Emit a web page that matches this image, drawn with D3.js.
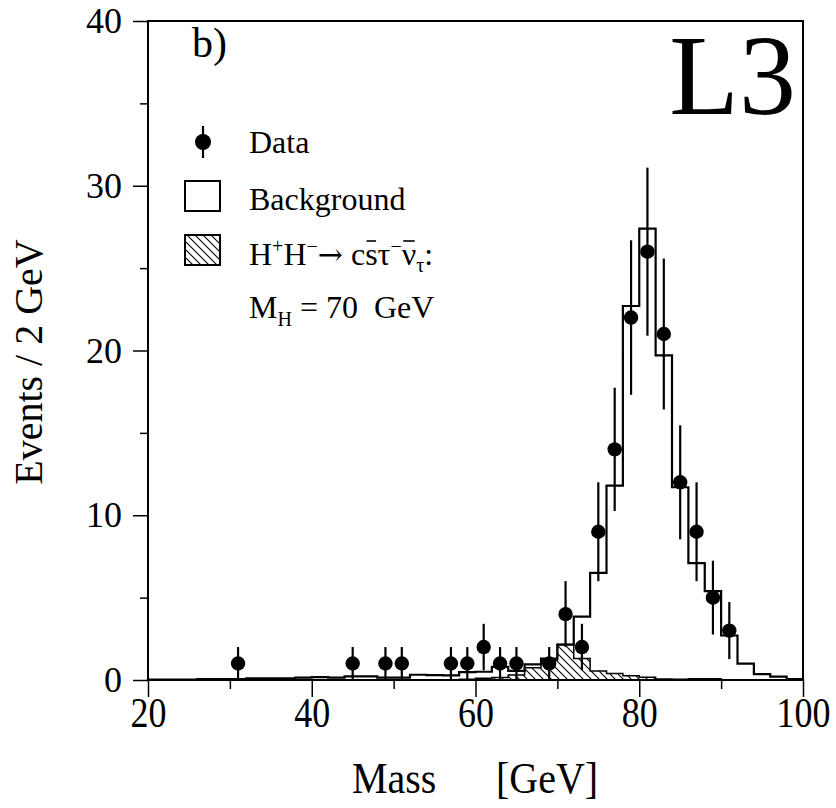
<!DOCTYPE html>
<html><head><meta charset="utf-8">
<script src="https://cdn.jsdelivr.net/npm/d3@7"></script>
<style>
html,body{margin:0;padding:0;background:#fff;}
text{font-family:"Liberation Serif","Times New Roman",serif;fill:#000;}
</style></head>
<body>
<svg id="c" width="836" height="808"></svg>
<script>
// ---- data ----
const binEdges = [20,22,24,26,28,30,32,34,36,38,40,42,44,46,48,50,52,54,56,58,60,62,64,66,68,70,72,74,76,78,80,82,84,86,88,90,92,94,96,98,100];
const background = [0.02,0.02,0.03,0.05,0.05,0.06,0.1,0.1,0.1,0.15,0.18,0.15,0.22,0.22,0.15,0.15,0.32,0.3,0.28,0.48,0.5,0.8,0.55,0.95,1.3,2.15,3.85,6.5,11.8,22.7,27.4,19.7,11.7,7.1,5.4,2.7,1.0,0.36,0.2,0.06];
const signal = [0,0,0,0,0,0,0,0,0,0,0,0,0,0,0,0,0,0,0,0.05,0.1,0.15,0.3,0.75,1.2,2.15,1.3,0.55,0.4,0.26,0.16,0.06,0.04,0.08,0.08,0,0,0,0,0];
const dataMass = [31,45,49,51,57,59,61,63,65,69,71,73,75,77,79,81,83,85,87,89,91];
const dataCount = [1,1,1,1,1,1,2,1,1,1,4,2,9,14,22,26,21,12,9,5,3];
const dataErr = [1,1,1,1,1,1,1.41,1,1,1,2,1.41,3,3.74,4.69,5.1,4.58,3.46,3,2.24,1.73];
const xMajor = [20,40,60,80,100];
const xMinor = [30,50,70,90];
const yMajor = [0,10,20,30,40];
const yMinor = [5,15,25,35];

const svg = d3.select("#c");
const x = d3.scaleLinear().domain([20,100]).range([148,803]);
const y = d3.scaleLinear().domain([0,40]).range([680,21]);

// hatch pattern
const defs = svg.append("defs");
const pat = defs.append("pattern").attr("id","hatch").attr("patternUnits","userSpaceOnUse")
  .attr("width",8).attr("height",8);
pat.append("rect").attr("width",8).attr("height",8).attr("fill","#fff");
pat.append("path").attr("d","M-1,-1L9,9M-1,7L1,9M7,-1L9,1").attr("stroke","#000").attr("stroke-width",1.1);

function stepPath(vals){
  let p = [[binEdges[0],0]];
  vals.forEach((v,i)=>{ p.push([binEdges[i],v]); p.push([binEdges[i+1],v]); });
  p.push([binEdges[binEdges.length-1],0]);
  return d3.line().x(d=>x(d[0])).y(d=>y(d[1]))(p);
}

svg.append("path").attr("d",stepPath(signal)+"Z").attr("fill","url(#hatch)")
  .attr("stroke","#000").attr("stroke-width",1.5);
svg.append("path").attr("d",stepPath(background)).attr("fill","none")
  .attr("stroke","#000").attr("stroke-width",2.2);

const dg = svg.append("g");
dataMass.forEach((m,i)=>{
  dg.append("line").attr("x1",x(m)).attr("x2",x(m))
    .attr("y1",y(Math.max(0,dataCount[i]-dataErr[i]))).attr("y2",y(dataCount[i]+dataErr[i]))
    .attr("stroke","#000").attr("stroke-width",2.2);
  dg.append("circle").attr("cx",x(m)).attr("cy",y(dataCount[i])).attr("r",7.2).attr("fill","#000");
});

svg.append("rect").attr("x",148).attr("y",21).attr("width",655).attr("height",659)
  .attr("fill","none").attr("stroke","#000").attr("stroke-width",2);

const ax = svg.append("g").attr("transform","translate(0,680)")
  .call(d3.axisBottom(x).tickValues(xMajor).tickSize(17).tickPadding(5).tickFormat(d3.format("d")));
const axm = svg.append("g").attr("transform","translate(0,680)")
  .call(d3.axisBottom(x).tickValues(xMinor).tickSize(9).tickFormat(""));
const ay = svg.append("g").attr("transform","translate(148,0)")
  .call(d3.axisLeft(y).tickValues(yMajor).tickSize(15).tickPadding(11).tickFormat(d3.format("d")));
const aym = svg.append("g").attr("transform","translate(148,0)")
  .call(d3.axisLeft(y).tickValues(yMinor).tickSize(8).tickFormat(""));
[ax,axm,ay,aym].forEach(g=>{
  g.select(".domain").remove();
  g.selectAll("line").attr("stroke","#000").attr("stroke-width",1.5);
  g.selectAll("text").attr("font-family","Liberation Serif").attr("font-size",36).attr("fill","#000");
});
ax.selectAll("text").attr("y",0).attr("dy",0).attr("transform","translate(0,727) scale(1,1.15)".replace("727","47"));

// axis titles
const xg = svg.append("g").attr("transform","translate(0,793) scale(1,1.1)");
const xt = xg.append("text").attr("y",0).attr("font-size",40);
xt.append("tspan").attr("x",352).text("Mass");
xt.append("tspan").attr("x",496).text("[GeV]");
svg.append("text").attr("transform","translate(42,362) rotate(-90)")
  .attr("text-anchor","middle").attr("font-size",40).text("Events / 2 GeV");

svg.append("text").attr("x",192).attr("y",57).attr("font-size",42).text("b)");
svg.append("text").attr("x",796).attr("y",114).attr("text-anchor","end").attr("font-size",114).text("L3");

// legend
const lg = svg.append("g");
lg.append("line").attr("x1",203).attr("x2",203).attr("y1",126).attr("y2",158).attr("stroke","#000").attr("stroke-width",2.2);
lg.append("circle").attr("cx",203).attr("cy",142).attr("r",8).attr("fill","#000");
lg.append("rect").attr("x",185).attr("y",181).attr("width",35).attr("height",30).attr("fill","#fff").attr("stroke","#000").attr("stroke-width",2);
lg.append("rect").attr("x",185).attr("y",235).attr("width",35).attr("height",30).attr("fill","url(#hatch)").attr("stroke","#000").attr("stroke-width",2);

const fs = 32;
lg.append("text").attr("x",249).attr("y",153).attr("font-size",fs).text("Data");
lg.append("text").attr("x",249).attr("y",210).attr("font-size",fs).text("Background");
const t3 = lg.append("text").attr("x",249).attr("y",265).attr("font-size",fs).style("white-space","pre");
t3.append("tspan").text("H");
t3.append("tspan").attr("dy",-12).attr("font-size",20).text("+");
t3.append("tspan").attr("dy",12).text("H");
t3.append("tspan").attr("dy",-12).attr("font-size",20).text("\u2212");
t3.append("tspan").attr("dy",12).attr("font-family","DejaVu Serif").attr("font-size",30).text("\u2192");
t3.append("tspan").text(" c");
t3.append("tspan").text("s");
t3.append("tspan").text("\u03C4");
t3.append("tspan").attr("dy",-12).attr("font-size",20).text("\u2212");
t3.append("tspan").attr("dy",12).text("\u03BD");
t3.append("tspan").attr("dy",7).attr("font-size",20).text("\u03C4");
t3.append("tspan").attr("dy",-7).text(":");
const tn = t3.node();
[7,10].forEach(ci=>{
  const e = tn.getExtentOfChar(ci);
  lg.append("line").attr("x1",e.x+1.5).attr("x2",e.x+e.width-1.5)
    .attr("y1",265-24).attr("y2",265-24).attr("stroke","#000").attr("stroke-width",1.6);
});
const t4 = lg.append("text").attr("x",249).attr("y",318).attr("font-size",fs).style("white-space","pre");
t4.append("tspan").text("M");
t4.append("tspan").attr("dy",8).attr("font-size",20).text("H");
t4.append("tspan").attr("dy",-8).text(" = 70  GeV");
</script>
</body></html>
